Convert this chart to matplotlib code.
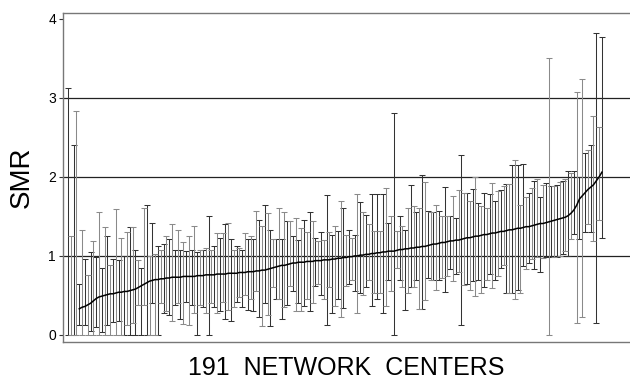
import matplotlib
matplotlib.use("Agg")
import matplotlib.pyplot as plt
import numpy as np

plt.rcParams['font.family'] = ['Liberation Sans', 'DejaVu Sans']

# SMR point estimates (sorted), lower and upper confidence limits, for 191 centers
smr = [
    0, 0, 0, 0, 0.33, 0.35, 0.36, 0.38, 0.40, 0.43,
    0.46, 0.48, 0.49, 0.50, 0.51, 0.52, 0.52, 0.53, 0.54, 0.54,
    0.55, 0.55, 0.56, 0.57, 0.58, 0.60, 0.62, 0.64, 0.66, 0.68,
    0.69, 0.70, 0.70, 0.71, 0.71, 0.72, 0.72, 0.73, 0.73, 0.73,
    0.73, 0.74, 0.74, 0.74, 0.74, 0.74, 0.75, 0.75, 0.75, 0.76,
    0.76, 0.76, 0.76, 0.77, 0.77, 0.77, 0.77, 0.78, 0.78, 0.78,
    0.78, 0.79, 0.79, 0.79, 0.80, 0.80, 0.80, 0.81, 0.81, 0.82,
    0.82, 0.83, 0.84, 0.85, 0.86, 0.87, 0.88, 0.88, 0.89, 0.90,
    0.91, 0.91, 0.92, 0.92, 0.92, 0.93, 0.93, 0.93, 0.94, 0.94,
    0.94, 0.95, 0.95, 0.95, 0.96, 0.96, 0.97, 0.97, 0.98, 0.98,
    0.99, 0.99, 1.00, 1.00, 1.01, 1.01, 1.02, 1.02, 1.03, 1.03,
    1.04, 1.04, 1.05, 1.05, 1.06, 1.06, 1.06, 1.07, 1.08, 1.08,
    1.09, 1.09, 1.10, 1.10, 1.11, 1.11, 1.12, 1.12, 1.13, 1.14,
    1.15, 1.15, 1.16, 1.17, 1.17, 1.18, 1.19, 1.19, 1.20, 1.20,
    1.21, 1.22, 1.23, 1.23, 1.24, 1.25, 1.25, 1.26, 1.27, 1.27,
    1.28, 1.29, 1.29, 1.30, 1.31, 1.31, 1.32, 1.33, 1.33, 1.34,
    1.35, 1.35, 1.36, 1.37, 1.37, 1.38, 1.39, 1.40, 1.41, 1.41,
    1.42, 1.43, 1.44, 1.45, 1.46, 1.47, 1.48, 1.49, 1.51, 1.54,
    1.58, 1.64, 1.72, 1.76, 1.80, 1.84, 1.87, 1.90, 1.95, 2.00,
    2.06,
]

lower = [
    0, 0, 0, 0, 0.12, 0.00, 0.12, 0.00, 0.05, 0.00,
    0.10, 0.00, 0.03, 0.00, 0.13, 0.00, 0.16, 0.00, 0.18, 0.00,
    0.00, 0.13, 0.00, 0.15, 0.00, 0.38, 0.00, 0.38, 0.00, 0.00,
    0.40, 0.00, 0.00, 0.40, 0.28, 0.30, 0.25, 0.18, 0.38, 0.40,
    0.20, 0.14, 0.42, 0.12, 0.38, 0.28, 0.00, 0.38, 0.35, 0.28,
    0.00, 0.40, 0.35, 0.28, 0.30, 0.42, 0.20, 0.32, 0.17, 0.35,
    0.42, 0.48, 0.35, 0.50, 0.32, 0.45, 0.30, 0.55, 0.23, 0.11,
    0.40, 0.25, 0.11, 0.60, 0.45, 0.45, 0.20, 0.35, 0.38, 0.62,
    0.56, 0.30, 0.40, 0.30, 0.36, 0.45, 0.30, 0.40, 0.62, 0.64,
    0.50, 0.45, 0.12, 0.61, 0.28, 0.37, 0.45, 0.23, 0.34, 0.62,
    0.64, 0.69, 0.55, 0.28, 0.53, 0.51, 0.61, 0.70, 0.36, 0.53,
    0.45, 0.53, 0.28, 0.36, 0.70, 0.55, 0.00, 0.85, 0.70, 0.61,
    0.32, 0.53, 0.61, 0.61, 0.70, 0.33, 0.33, 0.44, 0.72, 0.70,
    0.70, 0.57, 0.70, 0.72, 0.54, 0.74, 0.83, 0.68, 0.77, 0.80,
    0.13, 0.63, 0.65, 0.57, 0.68, 0.49, 0.70, 0.53, 0.61, 0.70,
    0.77, 0.59, 0.70, 0.74, 0.85, 0.89, 0.53, 0.53, 0.53, 0.45,
    0.57, 0.53, 0.87, 0.83, 0.91, 0.96, 0.83, 0.98, 0.80, 0.97,
    0.99, 0.00, 0.99, 0.99, 0.99, 1.00, 1.03, 1.06, 1.00, 1.22,
    1.28, 0.15, 1.21, 0.23, 1.30, 1.40, 1.30, 1.19, 0.15, 1.45,
    1.23,
]

upper = [
    3.13, 1.25, 2.40, 2.84, 0.65, 1.33, 0.96, 0.76, 1.05, 1.19,
    0.98, 1.55, 0.85, 1.36, 1.25, 0.88, 0.96, 1.60, 0.95, 1.23,
    1.00, 1.30, 1.36, 1.36, 1.07, 0.95, 0.85, 1.61, 1.65, 1.00,
    1.42, 1.02, 1.12, 1.08, 1.15, 1.25, 1.22, 1.40, 1.08, 1.33,
    1.08, 1.17, 1.06, 1.25, 1.08, 1.38, 1.05, 1.08, 1.08, 1.10,
    1.50, 1.08, 1.12, 1.29, 1.23, 1.29, 1.40, 1.42, 1.21, 1.08,
    1.13, 1.10, 1.08, 1.29, 1.21, 1.25, 1.21, 1.57, 1.46, 1.38,
    1.64, 1.54, 1.33, 1.21, 1.22, 1.61, 1.21, 1.55, 1.44, 1.44,
    1.25, 1.48, 1.20, 1.35, 1.46, 1.30, 1.55, 1.44, 1.23, 1.19,
    1.30, 1.20, 1.77, 1.30, 1.27, 1.38, 1.32, 1.70, 1.61, 1.27,
    1.33, 1.23, 1.27, 1.79, 1.68, 1.55, 1.52, 1.40, 1.78, 1.31,
    1.78, 1.31, 1.78, 1.86, 1.42, 1.50, 2.81, 1.31, 1.50, 1.38,
    1.33, 1.61, 1.90, 1.63, 1.55, 1.61, 2.02, 1.93, 1.57, 1.55,
    1.55, 1.65, 1.57, 1.50, 1.87, 1.50, 1.50, 1.76, 1.48, 1.83,
    2.28, 1.80, 1.80, 1.69, 1.85, 2.00, 1.67, 1.63, 1.80, 1.61,
    1.78, 1.92, 1.69, 1.82, 1.84, 1.88, 1.91, 1.91, 2.15, 2.22,
    2.15, 1.65, 2.17, 1.74, 1.80, 1.86, 1.95, 1.98, 1.74, 1.90,
    1.92, 3.51, 1.88, 1.88, 1.90, 1.93, 1.95, 1.98, 2.07, 2.05,
    2.07, 3.07, 2.00, 3.24, 2.30, 2.34, 2.41, 2.77, 3.82, 2.63,
    3.77,
]

yticks = [0, 1, 2, 3, 4]
ref_lines = [1, 2, 3]
xlabel = "191  NETWORK  CENTERS"
ylabel = "SMR"

smr_a = np.array(smr)
lo_a = np.array(lower)
hi_a = np.array(upper)
idx = np.arange(len(smr_a))

fig = plt.figure(figsize=(6.30, 3.82), dpi=100)
ax = fig.add_axes([0.1, 0.105, 0.9, 0.861])

for y in ref_lines:
    ax.axhline(y, color='#222222', lw=0.9, zorder=1)

colors = ['#333333', '#8a8a8a']
for k in range(2):
    sel = idx % 2 == k
    ax.errorbar(idx[sel], smr_a[sel],
                yerr=[smr_a[sel] - lo_a[sel], hi_a[sel] - smr_a[sel]],
                fmt='none', ecolor=colors[k], elinewidth=0.75,
                capsize=2.0, capthick=0.75, zorder=2)

mask = smr_a > 0
ax.plot(idx[mask], smr_a[mask], color='black', lw=1.1, zorder=3)

ax.set_xlim(-1.8, 200)
ax.set_ylim(-0.089, 4.076)
ax.set_xticks([])
ax.set_yticks(yticks)
ax.set_yticklabels([str(t) for t in yticks], fontsize=10)
ax.tick_params(axis='y', length=3, width=0.8, pad=2, color='#333333')

for side in ['left', 'bottom', 'top']:
    ax.spines[side].set_color('#777777')
    ax.spines[side].set_linewidth(1.0)
ax.spines['right'].set_visible(False)

ax.set_ylabel(ylabel, fontsize=20, labelpad=10)
ax.set_xlabel(xlabel, fontsize=18, labelpad=10)

fig.savefig("out.png", dpi=100)
